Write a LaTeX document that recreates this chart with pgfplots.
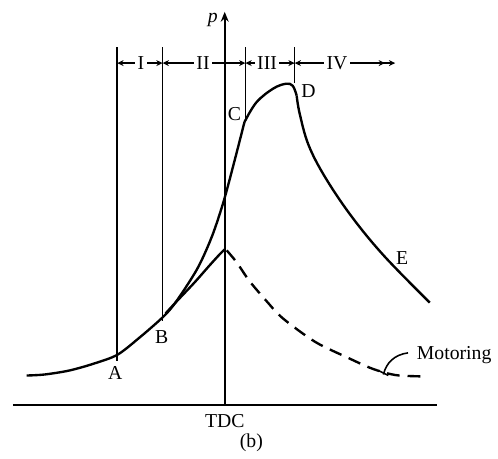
\documentclass[border=0pt]{standalone}
\usepackage{pgfplots}
\pgfplotsset{compat=1.18}
\usetikzlibrary{arrows.meta}
\usepackage{fontspec}
\setmainfont{Liberation Serif}

\begin{document}
\begin{tikzpicture}[
    lbl/.style={fill=white, inner sep=1.2pt},
    dim/.style={line width=0.7pt, {Stealth[length=3.2pt,width=3pt]}-{Stealth[length=3.2pt,width=3pt]}},
  ]
  \begin{axis}[
    x=0.5pt, y=0.5pt, y dir=reverse,
    xmin=0, xmax=498, ymin=0, ymax=464,
    hide axis, clip=false,
    every axis plot/.append style={black, no markers},
  ]
    \path (axis cs:0,0) rectangle (axis cs:498,464);

    % baseline and pressure axis at TDC
    \addplot[line width=0.9pt] coordinates {(13,411) (443,411)};
    \addplot[line width=0.9pt, -{Stealth[length=5pt,width=4pt]}] coordinates {(228,411) (228,12)};

    % stage boundaries A, B, C, D
    \addplot[line width=0.8pt] coordinates {(119,48) (119,366)};
    \addplot[line width=0.8pt] coordinates {(165,48) (165,326)};
    \addplot[line width=0.8pt] coordinates {(249,48) (249,122)};
    \addplot[line width=0.8pt] coordinates {(299,48) (299,84)};

    % stage dimension arrows
    \addplot[dim] coordinates {(119,64) (165,64)};
    \addplot[dim] coordinates {(165,64) (249,64)};
    \addplot[dim] coordinates {(249,64) (299,64)};
    \addplot[line width=0.7pt, {Stealth[length=3.2pt,width=3pt]}-{Stealth[length=3.2pt,width=3pt,sep=2pt]Stealth[length=3.2pt,width=3pt]}] coordinates {(299,64) (401,64)};
    \node[lbl] at (axis cs:143,64) {I};
    \node[lbl] at (axis cs:206,64) {II};
    \node[lbl] at (axis cs:271,64) {III};
    \node[lbl] at (axis cs:342,64) {IV};

    % combustion pressure
    \addplot[line width=1.2pt, smooth] coordinates {
      (27,381) (45,380) (70,376) (95,369) (119,360) (141,343) (165,322) (178,307)
      (200,273) (215,240) (227,204) (238,163) (248,124)};
    \addplot[line width=1.2pt, smooth, tension=0.6] coordinates {
      (248,124) (260,104) (277,90) (290,85) (297,87) (301,97)};
    \addplot[line width=1.2pt, smooth, tension=0.6] coordinates {
      (301,97) (304,115) (313,147) (330,180) (357,220) (390,260) (436,307)};

    % motoring pressure
    \addplot[line width=1.2pt, smooth] coordinates {
      (168,318) (180,305) (197,287) (212,270) (222,259) (228,253)};
    \addplot[line width=1.2pt, dash pattern=on 6.5pt off 4pt, smooth] coordinates {
      (230,254) (240,266) (253,285) (270,305) (287,323) (320,347) (353,363)
      (375,373) (390,378) (405,381) (432,382)};
    \draw[line width=0.8pt] (axis cs:389,380) .. controls (axis cs:392,368) and (axis cs:400,360) .. (axis cs:414,358);
    \draw[line width=0.8pt] (axis cs:384,376) -- (axis cs:394,381);

    % labels
    \node at (axis cs:117,378) {A};
    \node at (axis cs:164,342) {B};
    \node at (axis cs:238,116) {C};
    \node at (axis cs:313,92) {D};
    \node at (axis cs:408,262) {E};
    \node at (axis cs:216,20) {\textit{p}};
    \node[anchor=west] at (axis cs:416,360) {Motoring};
    \node at (axis cs:228,427) {TDC};
    \node at (axis cs:255,449) {(b)};
  \end{axis}
\end{tikzpicture}
\end{document}
